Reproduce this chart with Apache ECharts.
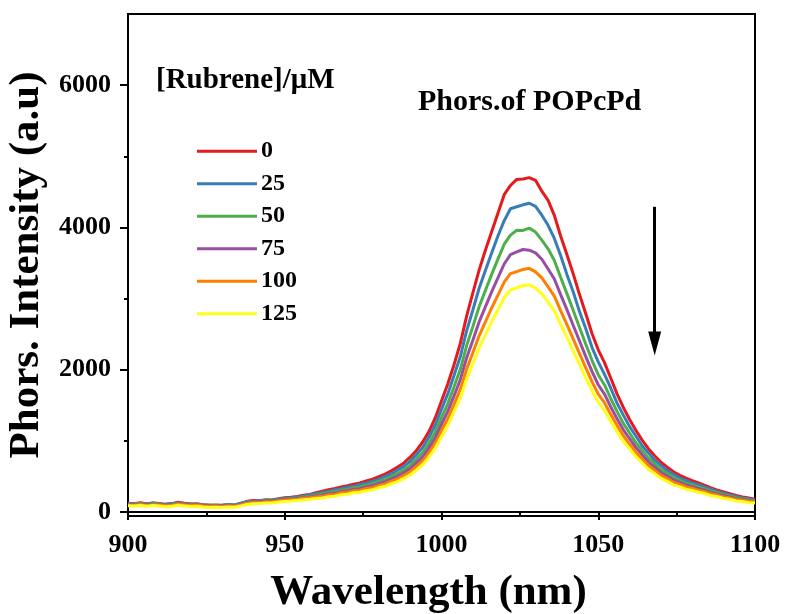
<!DOCTYPE html>
<html>
<head>
<meta charset="utf-8">
<script src="https://cdn.jsdelivr.net/npm/echarts@6/dist/echarts.min.js"></script>
<style>
  html, body { margin: 0; padding: 0; background: #fff; }
  #chart { width: 786px; height: 614px; }
</style>
</head>
<body>
<div id="chart"></div>
<script>
// Emission wavelengths (nm), 2 nm steps
const wavelength = [];
for (let w = 900; w <= 1100; w += 2) wavelength.push(w);

// Rubrene concentrations (μM)
const concentrations = ['0', '25', '50', '75', '100', '125'];

// Phosphorescence intensity (a.u) for each rubrene concentration
const int0 = [125,118,132,112,128,120,106,118,138,124,112,116,102,94,100,90,104,96,122,150,
  162,158,172,168,188,202,208,218,236,248,272,292,312,330,352,370,392,410,436,462,
  496,534,580,632,690,770,866,984,1130,1322,1560,1800,2070,2370,2750,3080,3400,3680,3940,4200,
  4460,4590,4675,4680,4700,4662,4510,4380,4170,3880,3620,3350,3060,2790,2510,2280,2100,1880,1660,1470,
  1300,1150,1010,890,790,700,630,566,515,475,440,410,375,340,308,282,256,232,212,196,180];
const int25 = [116,120,118,114,126,110,112,120,124,115,110,104,100,96,92,98,106,100,125,146,
  150,160,165,170,180,195,200,212,225,240,258,276,290,312,326,348,362,386,404,434,
  458,500,536,590,642,712,806,908,1050,1220,1445,1660,1918,2185,2545,2840,3145,3395,3640,3880,
  4095,4262,4290,4318,4340,4295,4172,4030,3845,3605,3340,3095,2820,2580,2315,2110,1935,1740,1530,1362,
  1200,1068,932,828,728,652,582,530,476,445,406,385,348,320,285,266,238,220,196,186,168];
const int50 = [112,108,120,104,116,112,100,110,126,112,104,108,94,88,92,86,98,92,114,138,
  148,146,158,156,172,182,190,198,212,222,240,252,274,285,308,318,342,352,378,396,
  430,456,500,540,594,655,744,836,966,1122,1330,1525,1760,2006,2336,2606,2885,3114,3340,3554,
  3764,3892,3960,3958,3990,3935,3822,3700,3535,3300,3070,2835,2598,2362,2132,1930,1786,1592,1414,1246,
  1110,976,864,756,678,596,544,482,446,405,383,350,328,292,270,244,226,202,189,170,162];
const int75 = [106,112,104,110,98,108,96,104,116,108,98,102,90,86,84,90,92,88,108,132,
  140,142,150,152,164,176,182,190,202,212,226,235,257,265,288,297,320,328,354,368,
  402,425,466,502,554,608,690,776,898,1040,1234,1414,1632,1860,2165,2415,2672,2884,3095,3290,
  3486,3618,3655,3690,3680,3642,3552,3416,3275,3056,2845,2626,2407,2188,1976,1789,1656,1476,1312,1156,
  1030,906,803,702,631,554,506,450,416,379,357,328,306,273,254,228,212,188,178,160,153];
const int100 = [100,96,106,92,102,98,88,96,108,100,92,94,84,78,80,76,86,82,100,122,
  132,134,142,144,156,166,172,180,192,200,212,220,241,248,270,278,299,306,330,343,
  374,395,435,466,514,566,642,720,834,965,1145,1311,1514,1724,2007,2238,2477,2672,2868,3049,
  3230,3350,3380,3410,3425,3375,3290,3164,3035,2831,2637,2433,2231,2028,1833,1658,1536,1369,1218,1072,
  956,841,746,652,587,516,471,419,388,353,333,306,286,255,238,213,199,177,167,151,145];
const int125 = [88,84,92,80,90,84,74,82,94,86,78,82,70,64,68,62,72,68,86,106,
  116,118,126,128,140,148,154,162,172,180,189,197,216,223,243,250,271,277,300,312,
  341,361,398,427,472,520,591,664,771,893,1062,1217,1408,1603,1868,2083,2308,2490,2674,2842,
  3012,3120,3152,3180,3195,3147,3065,2950,2829,2638,2457,2266,2078,1887,1705,1542,1428,1271,1130,993,
  885,778,689,601,540,473,432,382,354,321,303,277,259,229,214,190,178,156,148,132,127];

const intensities = [int0, int25, int50, int75, int100, int125];
const colors = ['#e41a1c', '#377eb8', '#4daf4a', '#984ea3', '#ff7f00', '#ffff1a'];

// Axis ticks
const yMajorTicks = [0, 2000, 4000, 6000];
const yMinorTicks = [1000, 3000, 5000];

const FONT = '"Liberation Serif", "Times New Roman", serif';

const series = intensities.map((vals, i) => ({
  name: concentrations[i],
  type: 'line',
  showSymbol: false,
  silent: true,
  data: wavelength.map((w, j) => [w, vals[j]]),
  lineStyle: { width: 3, color: colors[i] },
  itemStyle: { color: colors[i] },
  z: 2 + i
}));

// Downward arrow showing the quenching trend
series[0].markLine = {
  silent: true,
  symbol: ['none', 'triangle'],
  symbolSize: [13, 24],
  label: { show: false },
  lineStyle: { color: '#000', width: 3, type: 'solid' },
  data: [[{ coord: [1068, 4290] }, { coord: [1068, 2370] }]]
};

const chart = echarts.init(document.getElementById('chart'), null, { renderer: 'canvas' });
chart.setOption({
  animation: false,
  backgroundColor: '#fff',
  textStyle: { fontFamily: FONT },
  grid: {
    left: 128, right: 31, top: 14, bottom: 98,
    containLabel: false,
    outerBoundsMode: 'none',
    show: true, borderColor: '#000', borderWidth: 2
  },
  legend: {
    orient: 'vertical',
    left: 192,
    top: 134,
    icon: 'rect',
    itemWidth: 60,
    itemHeight: 3,
    itemGap: 8,
    selectedMode: false,
    data: concentrations,
    textStyle: { fontFamily: FONT, fontWeight: 'bold', fontSize: 24, color: '#000', lineHeight: 24.5, padding: [0, 0, 0, -1] }
  },
  xAxis: {
    type: 'value',
    min: 900, max: 1100, interval: 50,
    name: 'Wavelength (nm)',
    nameLocation: 'middle',
    nameGap: 55,
    nameTextStyle: { fontFamily: FONT, fontWeight: 'bold', fontSize: 43, color: '#000', padding: [0, 26, 0, 0] },
    axisLine: { show: true, lineStyle: { color: '#000', width: 2 } },
    axisTick: { show: true, inside: false, length: 8, lineStyle: { color: '#000', width: 2 } },
    minorTick: { show: true, splitNumber: 2, length: 4, lineStyle: { color: '#000', width: 2 } },
    axisLabel: { fontFamily: FONT, fontWeight: 'bold', fontSize: 26, color: '#000', margin: 16, formatter: v => String(v) },
    splitLine: { show: false }
  },
  yAxis: [{
    type: 'value',
    min: -56, max: 7000,
    name: 'Phors. Intensity (a.u)',
    nameLocation: 'middle',
    nameGap: 72,
    nameTextStyle: { fontFamily: FONT, fontWeight: 'bold', fontSize: 43, color: '#000' },
    axisLine: { show: true, lineStyle: { color: '#000', width: 2 } },
    axisTick: { show: true, length: 8, customValues: yMajorTicks, lineStyle: { color: '#000', width: 2 } },
    axisLabel: { fontFamily: FONT, fontWeight: 'bold', fontSize: 26, color: '#000', margin: 17, customValues: yMajorTicks, formatter: v => String(v) },
    splitLine: { show: false }
  }, {
    type: 'value',
    min: -56, max: 7000,
    position: 'left',
    axisLine: { show: false },
    axisTick: { show: true, length: 4, customValues: yMinorTicks, lineStyle: { color: '#000', width: 2 } },
    axisLabel: { show: false },
    splitLine: { show: false }
  }],
  graphic: [{
    type: 'text',
    left: 156, top: 66,
    style: { text: '[Rubrene]/μM', font: 'bold 29px ' + FONT, fill: '#000' }
  }, {
    type: 'text',
    left: 418, top: 87,
    style: { text: 'Phors.of POPcPd', font: 'bold 30px ' + FONT, fill: '#000' }
  }],
  series: series
});
</script>
</body>
</html>
